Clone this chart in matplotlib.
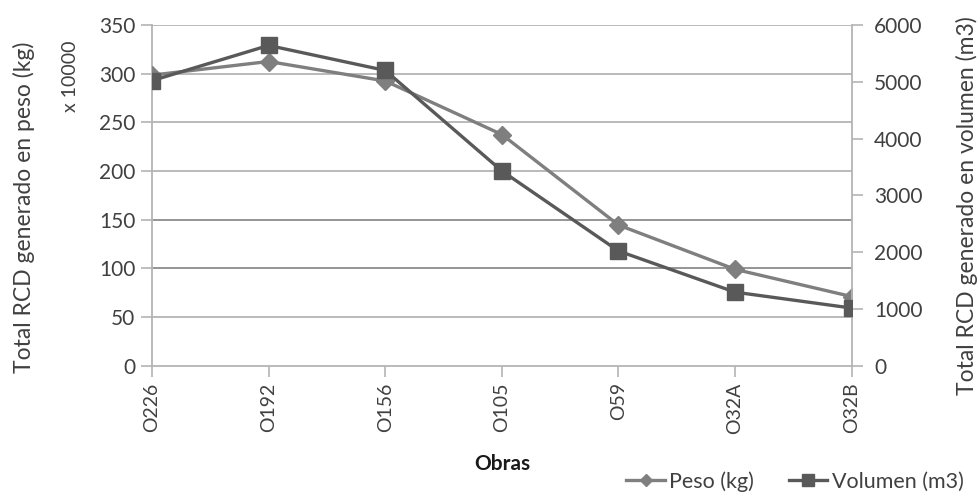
import matplotlib
matplotlib.use("Agg")
import matplotlib.pyplot as plt

plt.rcParams['font.family'] = ['Lato', 'DejaVu Sans']

categories = ["O226", "O192", "O156", "O105", "O59", "O32A", "O32B"]
peso = [298.5, 312.5, 292.5, 237.5, 144.5, 99, 71]          # x 10000 kg
volumen = [5020, 5640, 5200, 3430, 2020, 1295, 1015]        # m3
left_ticks = [0, 50, 100, 150, 200, 250, 300, 350]
right_ticks = [0, 1000, 2000, 3000, 4000, 5000, 6000]

TXT = "#404040"
GRID = "#b4b4b4"

fig = plt.figure(figsize=(9.78, 4.94), dpi=100)
ax = fig.add_axes([0.1554, 0.2597, 0.7155, 0.6897])
ax2 = ax.twinx()

x = list(range(len(categories)))
l1, = ax.plot(x, peso, color="#7f7f7f", lw=2.4, marker="D", markersize=9,
              zorder=3, label="Peso (kg)")
l2, = ax2.plot(x, volumen, color="#595959", lw=2.4, marker="s", markersize=12,
               zorder=3, label="Volumen (m3)")

ax.set_xlim(0, len(categories) - 1)
ax.set_ylim(0, 350)
ax2.set_ylim(0, 6000)
ax.set_yticks(left_ticks)
ax2.set_yticks(right_ticks)
ax.set_xticks(x)
ax.set_xticklabels(categories, rotation=90)

for t in left_ticks[1:]:
    c = "#8c8c8c" if t in (100, 150) else GRID
    ax.axhline(t, color=c, lw=1.3, zorder=0)

for a in (ax, ax2):
    for s in a.spines.values():
        s.set_visible(False)
    a.tick_params(colors=GRID, labelcolor=TXT, labelsize=15, length=8, width=1.2)
ax.spines['left'].set_visible(True)
ax.spines['left'].set_color(GRID)
ax.spines['left'].set_linewidth(1.3)
ax.spines['bottom'].set_visible(True)
ax.spines['bottom'].set_color(GRID)
ax.spines['bottom'].set_linewidth(1.3)
ax2.spines['right'].set_visible(True)
ax2.spines['right'].set_color(GRID)
ax2.spines['right'].set_linewidth(1.3)
ax.tick_params(axis='x', labelsize=14, pad=4)
ax.tick_params(axis='y', pad=4)
ax2.tick_params(axis='y', pad=8)

fig.text(24 / 978, 1 - 207 / 494, "Total RCD generado en peso (kg)", rotation=90,
         fontsize=16.5, color=TXT, ha="center", va="center")
fig.text(0.072, 0.845, "x 10000", rotation=90, fontsize=14, color=TXT,
         ha="center", va="center")
fig.text(967 / 978, 1 - 206 / 494, "Total RCD generado en volumen (m3)", rotation=90,
         fontsize=16.5, color=TXT, ha="center", va="center")
fig.text(502 / 978, 1 - 464 / 494, "Obras", fontsize=15, fontweight="bold",
         color="#1a1a1a", ha="center", va="center")

fig.legend(handles=[l1, l2], labels=["Peso (kg)", "Volumen (m3)"],
           loc="lower right", bbox_to_anchor=(1.005, -0.035), ncol=2, frameon=False,
           fontsize=15.5, labelcolor=TXT, handlelength=1.8, handletextpad=0.2,
           columnspacing=1.6, markerscale=0.7)

fig.savefig("out.png", dpi=100)
